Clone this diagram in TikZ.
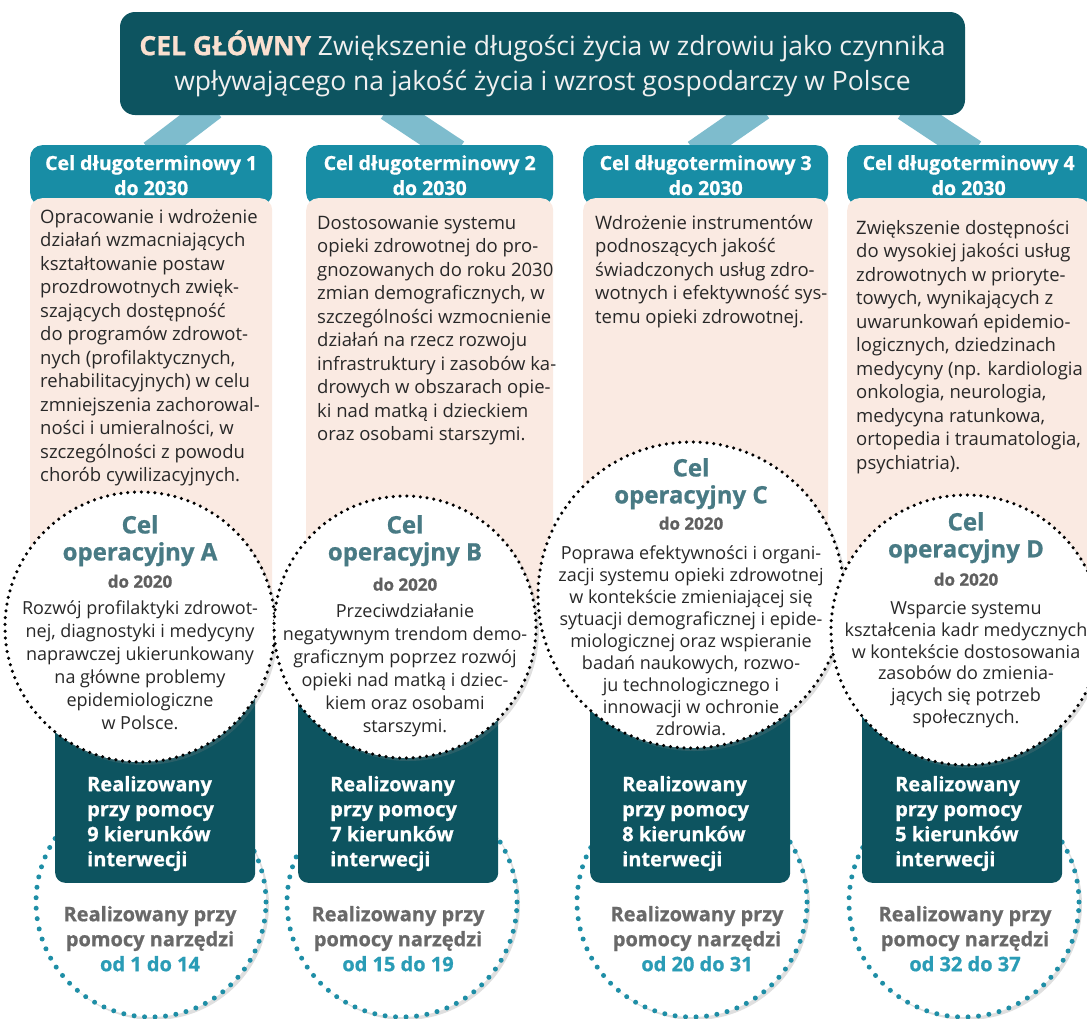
\documentclass[tikz,border=0pt]{standalone}
\usepackage{fontspec}
\setmainfont{Open Sans}[BoldFeatures={FakeBold=0.8}]
\usetikzlibrary{shadows,backgrounds,calc}

\definecolor{deepteal}{RGB}{13,84,96}
\definecolor{headteal}{RGB}{24,141,165}
\definecolor{bandteal}{RGB}{126,188,205}
\definecolor{peach}{RGB}{250,234,226}
\definecolor{titlepeach}{RGB}{250,224,208}
\definecolor{opteal}{RGB}{72,122,132}
\definecolor{yeargray}{RGB}{95,95,95}
\definecolor{bodygray}{RGB}{40,40,40}
\definecolor{toolgray}{RGB}{105,105,105}
\definecolor{toolteal}{RGB}{42,156,182}
\definecolor{ringteal}{RGB}{30,142,166}

% first-line strut, so that north anchors sit at the same height
\newcommand{\capstrut}{\rule{0pt}{0.8em}}

\tikzset{
  goalbox/.style={fill=deepteal, rounded corners=15pt, minimum width=845pt, minimum height=103pt,
    align=center, text=white!94!black, font=\fontsize{26.5}{35}\selectfont},
  band/.style={draw=bandteal, line width=27pt, shorten <=-14pt, shorten >=-14pt},
  headbox/.style={fill=headteal, rounded corners=12pt, minimum height=60pt, anchor=north west,
    align=center, text=white, font=\bfseries\fontsize{19.5}{25}\selectfont},
  peachbox/.style={fill=peach, rounded corners=12pt, minimum height=402pt, anchor=north west},
  bodytext/.style={anchor=north west, align=left, inner sep=0pt, text=bodygray,
    font=\fontsize{18.5}{23.5}\selectfont},
  realbox/.style={fill=deepteal, rounded corners=10pt, minimum width=200pt, minimum height=200pt,
    anchor=south west},
  realtext/.style={anchor=north west, align=left, inner sep=0pt, text=white,
    font=\bfseries\fontsize{20}{25}\selectfont},
  toolring/.style={circle, fill=white, draw=ringteal, line width=5pt, dash pattern=on 0pt off 10.5pt,
    line cap=round, minimum size=230pt, drop shadow={opacity=0.25, shadow xshift=3pt, shadow yshift=-3pt}},
  tooltext/.style={anchor=north, align=center, inner sep=0pt, text=toolgray,
    font=\bfseries\fontsize{20}{25}\selectfont},
  opring/.style={circle, fill=white, draw=black, line width=3.5pt, dash pattern=on 0pt off 6.8pt,
    line cap=round, inner sep=0pt, drop shadow={opacity=0.25, shadow xshift=3pt, shadow yshift=-3pt}},
  optitle/.style={anchor=north, align=center, inner sep=0pt, text=opteal,
    font=\bfseries\fontsize{24}{27}\selectfont},
  opyear/.style={anchor=mid, inner sep=0pt, text=yeargray, font=\bfseries\fontsize{17}{20}\selectfont},
  optext/.style={anchor=north, align=center, inner sep=0pt, text=bodygray,
    font=\fontsize{18}{23}\selectfont},
}

\begin{document}
\begin{tikzpicture}[x=1pt, y=-1pt]
    \useasboundingbox (0,0) rectangle (1087,1018);
    \clip (0,0) rectangle (1087,1018);

    % Main goal
    \node [goalbox] (goal) at (542.5,63.5)
        {{\bfseries\color{titlepeach}CEL GŁÓWNY} Zwiększenie długości życia w zdrowiu jako czynnika\\
         wpływającego na jakość życia i wzrost gospodarczy w Polsce};

    % Long-term goals: header and body
    \foreach \i/\x/\w in {1/30/242, 2/306/247, 3/583/245, 4/847/243} {
        \node [headbox, minimum width=\w pt] (head\i) at (\x,145) {Cel długoterminowy \i\\do 2030};
        \node [peachbox, minimum width=\w pt] (body\i) at (\x,198) {};
    }

    % Bands from the main goal
    \begin{scope}[on background layer]
        \foreach \i/\xt/\xb in {1/202/163, 2/400/445, 3/750/707, 4/917/962} {
            \draw [band] (goal.south -| \xt,0) -- (head\i.north -| \xb,0);
        }
    \end{scope}

    \node [bodytext] (text1) at (40,208) {\capstrut Opracowanie i wdrożenie\\działań wzmacniających\\kształtowanie postaw\\
        prozdrowotnych zwięk-\\szających dostępność\\do programów zdrowot-\\nych (profilaktycznych,\\
        rehabilitacyjnych) w celu\\zmniejszenia zachorowal-\\ności i umieralności, w\\szczególności z powodu\\
        chorób cywilizacyjnych.};
    \node [bodytext] (text2) at (317,214) {\capstrut Dostosowanie systemu\\opieki zdrowotnej do pro-\\gnozowanych do roku 2030\\
        zmian demograficznych, w\\szczególności wzmocnienie\\działań na rzecz rozwoju\\infrastruktury i zasobów ka-\\
        drowych w obszarach opie-\\ki nad matką i dzieckiem\\oraz osobami starszymi.};
    \node [bodytext] (text3) at (595,214) {\capstrut Wdrożenie instrumentów\\podnoszących jakość\\świadczonych usług zdro-\\
        wotnych i efektywność sys-\\temu opieki zdrowotnej.};
    \node [bodytext] (text4) at (856,219) {\capstrut Zwiększenie dostępności\\do wysokiej jakości usług\\zdrowotnych w prioryte-\\
        towych, wynikających z\\uwarunkowań epidemio-\\logicznych, dziedzinach\\medycyny (np. kardiologia\\
        onkologia, neurologia,\\medycyna ratunkowa,\\ortopedia i traumatologia,\\psychiatria).};

    % Tools rings and intervention boxes
    \foreach \i/\x in {1/151, 2/402, 3/692, 4/964} {
        \node [toolring] (tool\i) at (\x,902) {};
    }
    \foreach \i/\x in {1/55, 2/298, 3/590, 4/862} {
        \node [realbox] (real\i) at (\x,883) {};
    }

    % Operational goals
    \node [opring, minimum size=270pt] (opA) at (140,627) {};
    \node [opring, minimum size=262pt] (opB) at (405,627) {};
    \node [opring, minimum size=306pt] (opC) at (691,595) {};
    \node [opring, minimum size=270pt] (opD) at (966,630) {};

    \foreach \l/\x/\y/\yy in {A/140/514/585, B/405/514/588, C/691/457/527, D/966/511/583} {
        \node [optitle] (op\l-title) at (\x,\y) {\capstrut Cel\\operacyjny \l};
        \node [opyear] (op\l-year) at (\x,\yy) {do 2020};
    }
    \node [optext] (opA-text) at (140,600) {\capstrut Rozwój profilaktyki zdrowot-\\nej, diagnostyki i medycyny\\
        naprawczej ukierunkowany\\na główne problemy\\epidemiologiczne\\w Polsce.};
    \node [optext] (opB-text) at (405,603) {\capstrut Przeciwdziałanie\\negatywnym trendom demo-\\graficznym poprzez rozwój\\
        opieki nad matką i dziec-\\kiem oraz osobami\\starszymi.};
    \node [optext, font=\fontsize{18}{22}\selectfont] (opC-text) at (691,545) {\capstrut Poprawa efektywności i organi-\\
        zacji systemu opieki zdrowotnej\\w kontekście zmieniającej się\\sytuacji demograficznej i epide-\\
        miologicznej oraz wspieranie\\badań naukowych, rozwo-\\ju technologicznego i\\innowacji w ochronie\\zdrowia.};
    \node [optext, font=\fontsize{18}{21.7}\selectfont] (opD-text) at (966,600) {\capstrut Wsparcie systemu\\
        kształcenia kadr medycznych\\w kontekście dostosowania\\zasobów do zmienia-\\jących się potrzeb\\społecznych.};

    % Intervention and tool labels
    \foreach \i/\x/\n in {1/87/9, 2/330/7, 3/622/8, 4/895/5} {
        \node [realtext] (real\i-text) at (\x,775) {\capstrut Realizowany\\przy pomocy\\\n{} kierunków\\interwecji};
    }
    \foreach \i/\x/\r in {1/150/od 1 do 14, 2/398/od 15 do 19, 3/697/od 20 do 31, 4/965/od 32 do 37} {
        \node [tooltext] (tool\i-text) at (\x,905) {\capstrut Realizowany przy\\pomocy narzędzi\\{\color{toolteal}\r}};
    }
\end{tikzpicture}
\end{document}
